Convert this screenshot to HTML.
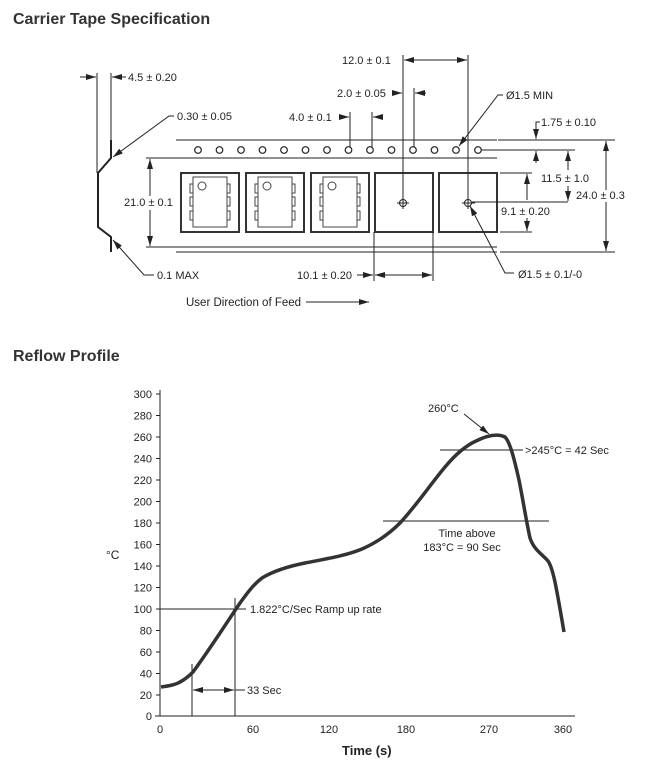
<!DOCTYPE html>
<html><head><meta charset="utf-8"><style>
html,body{margin:0;padding:0;background:#fff;}
svg{display:block;font-family:"Liberation Sans",Arial,sans-serif;}
</style></head><body>
<svg width="655" height="771" viewBox="0 0 655 771" xmlns="http://www.w3.org/2000/svg">
<defs>
<marker id="a" viewBox="0 0 10 6" refX="10" refY="3" markerWidth="10" markerHeight="6" markerUnits="userSpaceOnUse" orient="auto"><path d="M0,0L10,3L0,6z" fill="#222"/></marker>
</defs>
<g fill="#333">
<text x="13" y="24" font-size="16" font-weight="bold">Carrier Tape Specification</text>
<text x="13" y="361" font-size="16" font-weight="bold">Reflow Profile</text>
</g>
<g stroke="#222" stroke-width="1" fill="none">
<line x1="176" y1="140" x2="497" y2="140"/>
<line x1="176" y1="158" x2="497" y2="158"/>
<line x1="176" y1="247" x2="497" y2="247"/>
<line x1="176" y1="252" x2="497" y2="252"/>
<g stroke-width="1.2">
<circle cx="198" cy="150" r="3.3"/><circle cx="219.5" cy="150" r="3.3"/><circle cx="241" cy="150" r="3.3"/><circle cx="262.5" cy="150" r="3.3"/><circle cx="284" cy="150" r="3.3"/><circle cx="305.5" cy="150" r="3.3"/><circle cx="327" cy="150" r="3.3"/><circle cx="348.5" cy="150" r="3.3"/><circle cx="370" cy="150" r="3.3"/><circle cx="391.5" cy="150" r="3.3"/><circle cx="413" cy="150" r="3.3"/><circle cx="434.5" cy="150" r="3.3"/><circle cx="456" cy="150" r="3.3"/><circle cx="478" cy="150" r="3.3"/>
</g>
<g stroke-width="2" stroke="#333">
<rect x="181" y="173" width="58" height="59"/>
<rect x="246" y="173" width="58" height="59"/>
<rect x="311" y="173" width="58" height="59"/>
<rect x="375" y="173" width="58" height="59"/>
<rect x="439" y="173" width="58" height="59"/>
</g>
<g id="ic" stroke="#444">
<rect x="193" y="177" width="34" height="50"/>
<circle cx="202" cy="186" r="4"/>
<rect x="190" y="184" width="3" height="9"/><rect x="190" y="197" width="3" height="9"/><rect x="190" y="211" width="3" height="9"/>
<rect x="227" y="184" width="3" height="9"/><rect x="227" y="197" width="3" height="9"/><rect x="227" y="211" width="3" height="9"/>
</g>
<use href="#ic" x="65"/>
<use href="#ic" x="130"/>
<circle cx="403" cy="203" r="3.5"/><line x1="397" y1="203" x2="409" y2="203"/><line x1="403" y1="197" x2="403" y2="209"/>
<circle cx="468" cy="203" r="3.5"/><line x1="462" y1="203" x2="475" y2="203"/><line x1="468" y1="197" x2="468" y2="209"/>
<line x1="403" y1="55" x2="403" y2="203"/><line x1="468" y1="55" x2="468" y2="203"/>
<line x1="435" y1="60" x2="404" y2="60" marker-end="url(#a)"/><line x1="435" y1="60" x2="467" y2="60" marker-end="url(#a)"/>
<line x1="414" y1="88" x2="414" y2="147"/>
<line x1="392" y1="93" x2="402" y2="93" marker-end="url(#a)"/>
<line x1="426" y1="93" x2="415" y2="93" marker-end="url(#a)"/>
<line x1="350" y1="112" x2="350" y2="147"/><line x1="372" y1="112" x2="372" y2="147"/>
<line x1="341" y1="117" x2="349" y2="117" marker-end="url(#a)"/>
<line x1="382" y1="117" x2="373" y2="117" marker-end="url(#a)"/>
<polyline points="503,95 498,95 459,146" marker-end="url(#a)"/>
<line x1="498" y1="140" x2="615" y2="140"/>
<line x1="481" y1="150" x2="575" y2="150"/>
<line x1="472" y1="202" x2="568" y2="202"/>
<line x1="500" y1="252" x2="615" y2="252"/>
<line x1="500" y1="173" x2="532" y2="173"/>
<line x1="500" y1="232" x2="532" y2="232"/>
<polyline points="540,122 536,122 536,139" marker-end="url(#a)"/>
<line x1="536" y1="163" x2="536" y2="151" marker-end="url(#a)"/>
<line x1="568" y1="170" x2="568" y2="151" marker-end="url(#a)"/>
<line x1="568" y1="186" x2="568" y2="201" marker-end="url(#a)"/>
<line x1="606" y1="190" x2="606" y2="141" marker-end="url(#a)"/>
<line x1="606" y1="202" x2="606" y2="251" marker-end="url(#a)"/>
<line x1="527" y1="200" x2="527" y2="174" marker-end="url(#a)"/>
<line x1="527" y1="218" x2="527" y2="231" marker-end="url(#a)"/>
<polyline points="514,273 505,273 470,206" marker-end="url(#a)"/>
<line x1="374" y1="232" x2="374" y2="281"/><line x1="433" y1="232" x2="433" y2="281"/>
<line x1="357" y1="275" x2="373" y2="275" marker-end="url(#a)"/>
<line x1="400" y1="275" x2="375" y2="275" marker-end="url(#a)"/>
<line x1="400" y1="275" x2="432" y2="275" marker-end="url(#a)"/>
<line x1="146" y1="158" x2="176" y2="158"/><line x1="146" y1="247" x2="176" y2="247"/>
<line x1="150" y1="196" x2="150" y2="159" marker-end="url(#a)"/>
<line x1="150" y1="210" x2="150" y2="246" marker-end="url(#a)"/>
<line x1="97" y1="73" x2="97" y2="173"/><line x1="111" y1="73" x2="111" y2="140"/>
<line x1="80" y1="77" x2="96" y2="77" marker-end="url(#a)"/>
<line x1="126" y1="77" x2="112" y2="77" marker-end="url(#a)"/>
<polyline points="111,140 111,158 98,173 98,227 111,237 111,252" stroke-width="2"/>
<polyline points="174,116 169,116 113,157" marker-end="url(#a)"/>
<polyline points="154,275 144,275 113,240" marker-end="url(#a)"/>
<line x1="306" y1="302" x2="369" y2="302" marker-end="url(#a)"/>
</g>
<g font-size="11" fill="#222">
<text x="128" y="81">4.5 ± 0.20</text>
<text x="177" y="120">0.30 ± 0.05</text>
<text x="124" y="206">21.0 ± 0.1</text>
<text x="157" y="279">0.1 MAX</text>
<text x="342" y="64">12.0 ± 0.1</text>
<text x="337" y="97">2.0 ± 0.05</text>
<text x="289" y="121">4.0 ± 0.1</text>
<text x="506" y="99">Ø1.5 MIN</text>
<text x="541" y="126">1.75 ± 0.10</text>
<text x="541" y="182">11.5 ± 1.0</text>
<text x="576" y="199">24.0 ± 0.3</text>
<text x="501" y="215">9.1 ± 0.20</text>
<text x="518" y="278">Ø1.5 ± 0.1/-0</text>
<text x="297" y="279">10.1 ± 0.20</text>
<text x="186" y="306" font-size="11.5">User Direction of Feed</text>
</g>
<g stroke="#222" stroke-width="1" fill="none">
<line x1="160" y1="390" x2="160" y2="716"/>
<line x1="155" y1="716" x2="575" y2="716"/>
<g>
<line x1="156" y1="394" x2="160" y2="394"/><line x1="156" y1="415.5" x2="160" y2="415.5"/><line x1="156" y1="437" x2="160" y2="437"/><line x1="156" y1="458.5" x2="160" y2="458.5"/><line x1="156" y1="480" x2="160" y2="480"/><line x1="156" y1="501.5" x2="160" y2="501.5"/><line x1="156" y1="523" x2="160" y2="523"/><line x1="156" y1="544.5" x2="160" y2="544.5"/><line x1="156" y1="566" x2="160" y2="566"/><line x1="156" y1="587.5" x2="160" y2="587.5"/><line x1="156" y1="609" x2="160" y2="609"/><line x1="156" y1="630.5" x2="160" y2="630.5"/><line x1="156" y1="652" x2="160" y2="652"/><line x1="156" y1="673.5" x2="160" y2="673.5"/><line x1="156" y1="695" x2="160" y2="695"/>
</g>
<line x1="160" y1="609" x2="246" y2="609"/>
<line x1="235" y1="598" x2="235" y2="716"/>
<line x1="192" y1="664" x2="192" y2="716"/>
<line x1="213" y1="690" x2="193" y2="690" marker-end="url(#a)"/>
<line x1="213" y1="690" x2="234" y2="690" marker-end="url(#a)"/>
<line x1="235" y1="690" x2="245" y2="690"/>
<line x1="383" y1="521" x2="549" y2="521"/>
<line x1="440" y1="450" x2="523" y2="450"/>
<line x1="464" y1="414" x2="489" y2="434" marker-end="url(#a)"/>
<path d="M161,687 C168,686 175,685 180,682 C186,679 190,675 193,672 C205,656 222,630 240,603 C248,592 253,585 262,578 C275,570 290,566 305,563 C325,559 345,556 362,549 C378,542 390,533 400,523 C415,507 430,485 445,467 C455,455 465,446 476,441 C486,436 497,433 505,437 C510,442 514,458 519,480 C523,500 527,525 530,538 C534,550 542,554 548,561 C553,568 556,585 564,632" stroke="#333" stroke-width="3.5" stroke-linejoin="round"/>
</g>
<g font-size="11" fill="#222" text-anchor="end">
<text x="152" y="398">300</text><text x="152" y="419.5">280</text><text x="152" y="441">260</text><text x="152" y="462.5">240</text><text x="152" y="484">220</text><text x="152" y="505.5">200</text><text x="152" y="527">180</text><text x="152" y="548.5">160</text><text x="152" y="570">140</text><text x="152" y="591.5">120</text><text x="152" y="613">100</text><text x="152" y="634.5">80</text><text x="152" y="656">60</text><text x="152" y="677.5">40</text><text x="152" y="699">20</text><text x="152" y="720">0</text>
</g>
<g font-size="11" fill="#222" text-anchor="middle">
<text x="160" y="733">0</text><text x="253" y="733">60</text><text x="329" y="733">120</text><text x="406" y="733">180</text><text x="489" y="733">270</text><text x="563" y="733">360</text>
<text x="467" y="537">Time above</text>
<text x="462" y="551">183°C = 90 Sec</text>
</g>
<g font-size="11" fill="#222">
<text x="250" y="613">1.822°C/Sec Ramp up rate</text>
<text x="247" y="694">33 Sec</text>
<text x="525" y="454">&gt;245°C = 42 Sec</text>
<text x="428" y="412">260°C</text>
<text x="106" y="559" font-size="12">°C</text>
<text x="342" y="755" font-size="13" font-weight="bold">Time (s)</text>
</g>
</svg>
</body></html>
